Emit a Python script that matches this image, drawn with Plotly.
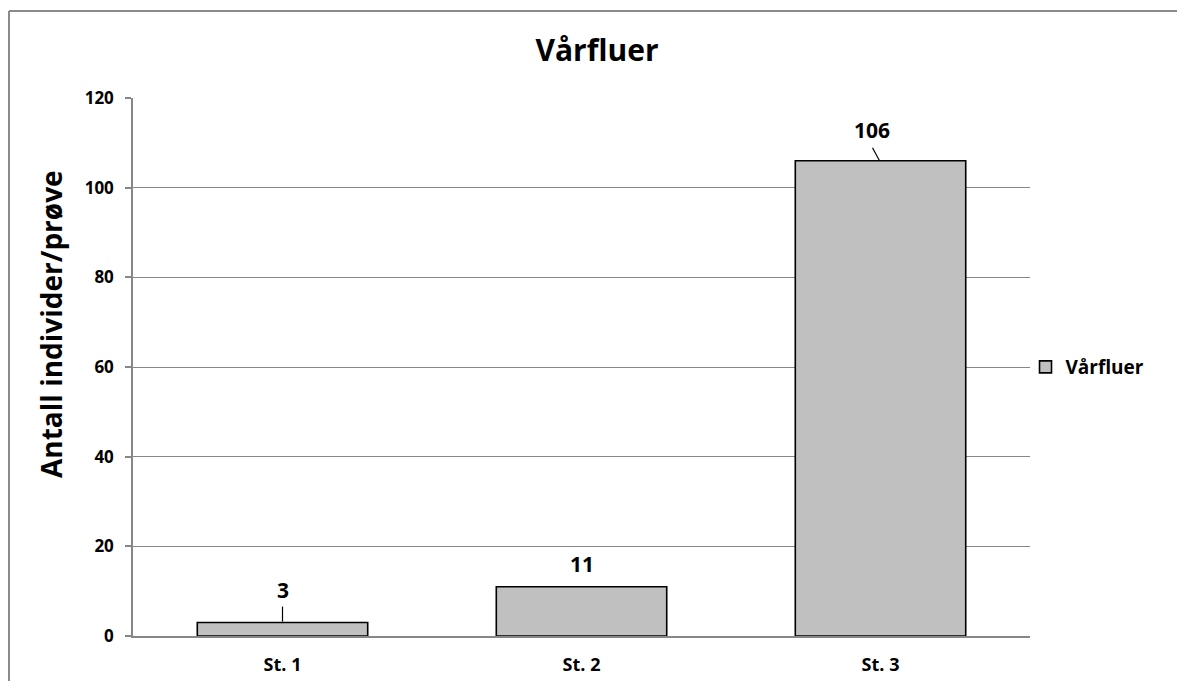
import plotly.graph_objects as go

categories = ["St. 1", "St. 2", "St. 3"]
values = [3, 11, 106]
series_name = "Vårfluer"
title_text = "Vårfluer"
y_title = "Antall individer/prøve"
y_ticks = [0, 20, 40, 60, 80, 100, 120]

FONT = "'Open Sans', sans-serif"
GRID = "#878787"
L, R, T, B = 133, 148, 98, 45
W, H = 1178, 681
PW, PH = W - L - R, H - T - B

fig = go.Figure()
fig.add_trace(go.Bar(
    x=categories, y=values, name=f"<b>{series_name}</b>",
    marker=dict(color="#C0C0C0", line=dict(color="#000000", width=1.6)),
    width=0.57, showlegend=True,
))

# data labels (offsets in pixels from the bar top)
label_offsets = [(0, 33), (0, 23), (-9, 31)]
for c, v, (dx, dy) in zip(categories, values, label_offsets):
    fig.add_annotation(x=c, y=v, text=f"<b>{v}</b>", showarrow=False,
                       xshift=dx, yshift=dy, yanchor="middle",
                       font=dict(family=FONT, size=21, color="#000"))

# leader lines
leaders = {0: (0, 0, 1, 16), 2: (-1, -8, 0, 13)}
for i, v in enumerate(values):
    if i in leaders:
        x0, x1, y0, y1 = leaders[i]
        fig.add_shape(type="line", xref="x", yref="y",
                      xsizemode="pixel", xanchor=i, x0=x0, x1=x1,
                      ysizemode="pixel", yanchor=v, y0=y0, y1=y1,
                      line=dict(color="#000", width=1.2))

# chart border (left and top edges visible in frame)
bx = (9 - L) / PW
by = 1 + (T - 11) / PH
fig.add_shape(type="line", xref="paper", yref="paper", x0=bx, x1=bx, y0=by, y1=-B / PH,
              line=dict(color="#8a8a8a", width=2))
fig.add_shape(type="line", xref="paper", yref="paper", x0=bx, x1=(W - 1 - L) / PW, y0=by, y1=by,
              line=dict(color="#8a8a8a", width=2))

# y-axis title
fig.add_annotation(xref="paper", yref="paper", x=(51 - L) / PW, y=1 - (324 - T) / PH,
                   text=f"<b>{y_title}</b>", textangle=-90, showarrow=False,
                   xanchor="center", yanchor="middle",
                   font=dict(family=FONT, size=28, color="#000"))

fig.update_layout(
    width=W, height=H,
    margin=dict(l=L, r=R, t=T, b=B, autoexpand=False),
    paper_bgcolor="white", plot_bgcolor="white",
    title=dict(text=f"<b>{title_text}</b>", x=597 / W, xanchor="center",
               y=1 - 50 / H, yanchor="middle",
               font=dict(family=FONT, size=30, color="#000")),
    font=dict(family=FONT, color="#000"),
    legend=dict(x=0.995, xanchor="left", y=0.5, yanchor="middle",
                font=dict(family=FONT, size=19, color="#000"),
                bgcolor="rgba(0,0,0,0)"),
    bargap=0.43,
    showlegend=True,
)
fig.update_yaxes(range=[0, 120], tickvals=y_ticks, ticktext=[f"<b>{t}</b>" for t in y_ticks],
                 showgrid=True, gridcolor=GRID, gridwidth=1,
                 showline=True, linecolor=GRID, linewidth=1.5,
                 ticks="outside", ticklen=6, tickcolor=GRID, tickwidth=1.5,
                 ticklabelstandoff=8, automargin=False,
                 tickfont=dict(family=FONT, size=17, color="#000"),
                 zeroline=False)
fig.update_xaxes(tickvals=categories, ticktext=[f"<b>{c}</b>" for c in categories],
                 showline=True, linecolor=GRID, linewidth=2,
                 ticks="", ticklabelstandoff=11, automargin=False,
                 tickfont=dict(family=FONT, size=18, color="#000"))

fig.write_html("out.html", config={"displayModeBar": False})
